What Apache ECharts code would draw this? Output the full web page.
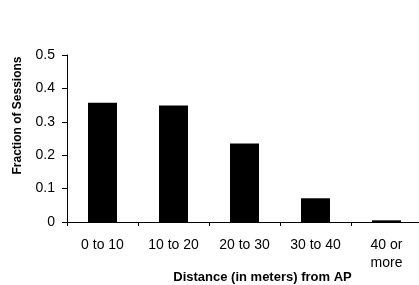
<!DOCTYPE html>
<html>
<head>
<meta charset="utf-8">
<script src="https://cdn.jsdelivr.net/npm/echarts@6/dist/echarts.min.js"></script>
<style>
  html, body { margin: 0; padding: 0; background: #fff; }
  #chart { width: 419px; height: 285px; }
</style>
</head>
<body>
<div id="chart"></div>
<script>
let chart = echarts.init(document.getElementById('chart'));

// distance buckets and session fractions
let categories = ['0 to 10', '10 to 20', '20 to 30', '30 to 40', '40 or\nmore'];
let fractions = [0.357, 0.349, 0.235, 0.071, 0.005];
let yTicks = [0, 0.1, 0.2, 0.3, 0.4, 0.5];

let font = 'Liberation Sans, Arial, sans-serif';

let option = {
    animation: false,
    grid: {
        left: 67,
        top: 55,
        width: 355,
        height: 167,
        containLabel: false,
        outerBoundsMode: 'none'
    },
    xAxis: {
        type: 'category',
        data: categories,
        name: 'Distance (in meters) from AP',
        nameLocation: 'middle',
        nameGap: 49,
        nameMoveOverlap: false,
        nameTextStyle: {
            fontFamily: font,
            fontSize: 13,
            fontWeight: 'bold',
            color: '#000',
            padding: [0, 0, 0, 36]
        },
        axisLine: {lineStyle: {color: '#000', width: 1}},
        axisTick: {show: true, length: 4, lineStyle: {color: '#000'}},
        axisLabel: {
            color: '#000',
            fontFamily: font,
            fontSize: 14,
            margin: 14,
            lineHeight: 18
        }
    },
    yAxis: {
        type: 'value',
        min: 0,
        max: 0.5,
        interval: 0.1,
        name: 'Fraction of Sessions',
        nameLocation: 'middle',
        nameGap: 43,
        nameMoveOverlap: false,
        nameTextStyle: {
            fontFamily: font,
            fontSize: 12,
            fontWeight: 'bold',
            color: '#000',
            padding: [0, 0, 0, 46]
        },
        splitLine: {show: false},
        axisLine: {show: true, lineStyle: {color: '#000', width: 1}},
        axisTick: {show: true, length: 5, lineStyle: {color: '#000'}},
        axisLabel: {
            color: '#000',
            fontFamily: font,
            fontSize: 14,
            margin: 12,
            formatter: function (v) {
                let t = yTicks.find(x => Math.abs(x - v) < 1e-9);
                return t === undefined ? '' : String(t);
            }
        }
    },
    series: [{
        type: 'bar',
        data: fractions,
        barWidth: 29,
        itemStyle: {color: '#000'}
    }]
};

chart.setOption(option);
</script>
</body>
</html>
